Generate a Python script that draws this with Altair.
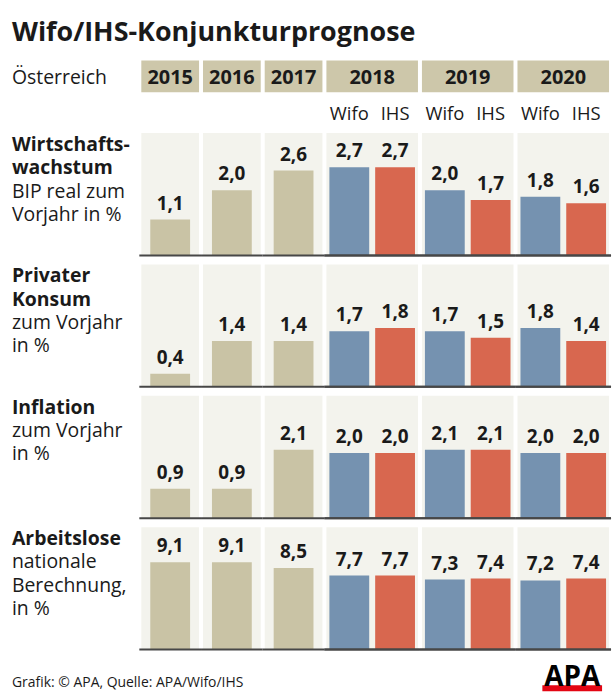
import altair as alt
import pandas as pd

# ---------------- data ----------------
TITLE = "Wifo/IHS-Konjunkturprognose"
COUNTRY = "Österreich"
SOURCE = "Grafik: © APA, Quelle: APA/Wifo/IHS"
LOGO = "APA"

years_actual = ["2015", "2016", "2017"]
years_forecast = ["2018", "2019", "2020"]
sources = ["Wifo", "IHS"]

indicators = ["wachstum", "konsum", "inflation", "arbeitslose"]
label_bold = ["Wirtschafts-\nwachstum", "Privater\nKonsum", "Inflation", "Arbeitslose"]
label_normal = ["BIP real zum\nVorjahr in %", "zum Vorjahr\nin %", "zum Vorjahr\nin %",
                "nationale\nBerechnung,\nin %"]

ist_wachstum = [1.1, 2.0, 2.6]
wifo_wachstum = [2.7, 2.0, 1.8]
ihs_wachstum = [2.7, 1.7, 1.6]

ist_konsum = [0.4, 1.4, 1.4]
wifo_konsum = [1.7, 1.7, 1.8]
ihs_konsum = [1.8, 1.5, 1.4]

ist_inflation = [0.9, 0.9, 2.1]
wifo_inflation = [2.0, 2.1, 2.0]
ihs_inflation = [2.0, 2.1, 2.0]

ist_arbeitslose = [9.1, 9.1, 8.5]
wifo_arbeitslose = [7.7, 7.3, 7.2]
ihs_arbeitslose = [7.7, 7.4, 7.4]

ist_values = [ist_wachstum, ist_konsum, ist_inflation, ist_arbeitslose]
wifo_values = [wifo_wachstum, wifo_konsum, wifo_inflation, wifo_arbeitslose]
ihs_values = [ihs_wachstum, ihs_konsum, ihs_inflation, ihs_arbeitslose]
y_max = [3.75, 3.75, 3.75, 12.75]

# ---------------- styles ----------------
FONT = "Open Sans"
TAN = "#c9c3a5"
HEADER_BG = "#cdc7aa"
BLUE = "#7592b0"
RED = "#d8674f"
PANEL_BG = "#f3f3ed"
INK = "#1a1a1a"
W_SINGLE, W_DOUBLE, W_LABEL = 58, 92, 126
ROW_H = 123
LINE_H = 23.5

rows = []
for i, ind in enumerate(indicators):
    for y, v in zip(years_actual, ist_values[i]):
        rows.append({"ind": ind, "year": y, "source": "Ist", "value": v})
    for j, y in enumerate(years_forecast):
        rows.append({"ind": ind, "year": y, "source": "Wifo", "value": wifo_values[i][j]})
        rows.append({"ind": ind, "year": y, "source": "IHS", "value": ihs_values[i][j]})
df = pd.DataFrame(rows)
df["label"] = df["value"].map(lambda v: f"{v:.1f}".replace(".", ","))

color_scale = alt.Scale(domain=["Ist", "Wifo", "IHS"], range=[TAN, BLUE, RED])


def width_of(year):
    return W_SINGLE if year in years_actual else W_DOUBLE


def order_of(year):
    return ["Ist"] if year in years_actual else sources


def panel(i, year):
    sub = df[(df["ind"] == indicators[i]) & (df["year"] == year)]
    w = width_of(year)
    order = order_of(year)
    x = alt.X("source:N", sort=order, axis=None,
              scale=alt.Scale(domain=order, paddingInner=0, paddingOuter=0))
    y = alt.Y("value:Q", axis=None,
              scale=alt.Scale(domain=[0, y_max[i]], nice=False, zero=True))
    base = alt.Chart(sub).encode(x=x, y=y)
    bars = base.mark_bar(width=40).encode(
        color=alt.Color("source:N", scale=color_scale, legend=None))
    text = base.mark_text(dy=-10, baseline="alphabetic", fontWeight="bold",
                          fontSize=19, color=INK).encode(text="label:N")
    rule = alt.Chart(sub).mark_rule(color="#474747", strokeWidth=2).encode(
        y=alt.datum(0), x=alt.value(-2), x2=alt.value(w + 2))
    return alt.layer(bars, text, rule).properties(
        width=w, height=ROW_H,
        view=alt.ViewBackground(fill=PANEL_BG, strokeWidth=0))


def label_view(i):
    nb = label_bold[i].count("\n") + 1
    d = pd.DataFrame({"b": [label_bold[i]], "n": [label_normal[i]]})
    b = alt.Chart(d).mark_text(align="left", baseline="alphabetic", fontWeight="bold",
                               fontSize=19.5, lineBreak="\n", lineHeight=LINE_H,
                               color=INK).encode(
        x=alt.value(0), y=alt.value(18), text="b:N")
    n = alt.Chart(d).mark_text(align="left", baseline="alphabetic", fontSize=19.5,
                               lineBreak="\n", lineHeight=LINE_H, color=INK).encode(
        x=alt.value(0), y=alt.value(18 + nb * LINE_H), text="n:N")
    return alt.layer(b, n).properties(width=W_LABEL, height=ROW_H,
                                      view=alt.ViewBackground(strokeWidth=0))


def empty_view(w, h):
    return alt.Chart(pd.DataFrame({"t": [""]})).mark_text().encode(
        text="t:N").properties(width=w, height=h, view=alt.ViewBackground(strokeWidth=0))


all_years = years_actual + years_forecast

# title row
title_view = alt.Chart(pd.DataFrame({"t": [TITLE]})).mark_text(
    align="left", baseline="alphabetic", fontSize=27, fontWeight="bold", color=INK
).encode(x=alt.value(0), y=alt.value(40), text="t:N").properties(
    width=600, height=51, view=alt.ViewBackground(strokeWidth=0))

# header row
country_view = alt.Chart(pd.DataFrame({"t": [COUNTRY]})).mark_text(
    align="left", baseline="alphabetic", fontSize=19.5, color=INK
).encode(x=alt.value(0), y=alt.value(24), text="t:N").properties(
    width=W_LABEL, height=32, view=alt.ViewBackground(strokeWidth=0))

header_panels = []
for yr in all_years:
    header_panels.append(
        alt.Chart(pd.DataFrame({"year": [yr]})).mark_text(
            baseline="alphabetic", fontSize=20, fontWeight="bold", color=INK
        ).encode(
            x=alt.X("year:N", axis=None, scale=alt.Scale(paddingInner=0, paddingOuter=0)),
            y=alt.value(24), text="year:N"
        ).properties(width=width_of(yr), height=32,
                     view=alt.ViewBackground(fill=HEADER_BG, strokeWidth=0)))
header_row = alt.hconcat(country_view, *header_panels, spacing=4, bounds="flush")

# sub header row
sub_panels = [empty_view(W_LABEL, 25)]
for yr in all_years:
    if yr in years_actual:
        sub_panels.append(empty_view(W_SINGLE, 25))
    else:
        sub_panels.append(
            alt.Chart(pd.DataFrame({"source": sources})).mark_text(
                baseline="alphabetic", fontSize=18.5, color=INK
            ).encode(
                x=alt.X("source:N", sort=sources, axis=None,
                        scale=alt.Scale(domain=sources, paddingInner=0, paddingOuter=0)),
                y=alt.value(20), text="source:N"
            ).properties(width=W_DOUBLE, height=25,
                         view=alt.ViewBackground(strokeWidth=0)))
sub_row = alt.hconcat(*sub_panels, spacing=4, bounds="flush")

data_rows = []
for i in range(len(indicators)):
    data_rows.append(alt.hconcat(label_view(i), *[panel(i, yr) for yr in all_years],
                                 spacing=4, bounds="flush"))

# footer
fd = pd.DataFrame({"s": [SOURCE], "logo": [LOGO]})
src_text = alt.Chart(fd).mark_text(align="left", baseline="alphabetic", fontSize=14,
                                   color=INK).encode(
    x=alt.value(0), y=alt.value(29), text="s:N")
logo_bar = alt.Chart(fd).mark_rect(color="#e30613").encode(
    x=alt.value(533), x2=alt.value(593), y=alt.value(27), y2=alt.value(33))
logo_text = alt.Chart(fd).mark_text(align="center", baseline="alphabetic", fontSize=28,
                                    fontWeight="bold", color="#000000").encode(
    x=alt.value(563), y=alt.value(28), text="logo:N")
footer = alt.layer(src_text, logo_bar, logo_text).properties(
    width=600, height=38, view=alt.ViewBackground(strokeWidth=0))

chart = alt.vconcat(title_view, header_row, sub_row, *data_rows, footer,
                    spacing=8).properties(
    padding={"left": 12, "top": 0, "right": 4, "bottom": 0},
    background="white",
).configure(font=FONT).configure_view(strokeWidth=0)

chart.save("out.html", embed_options={"renderer": "svg", "actions": False})
